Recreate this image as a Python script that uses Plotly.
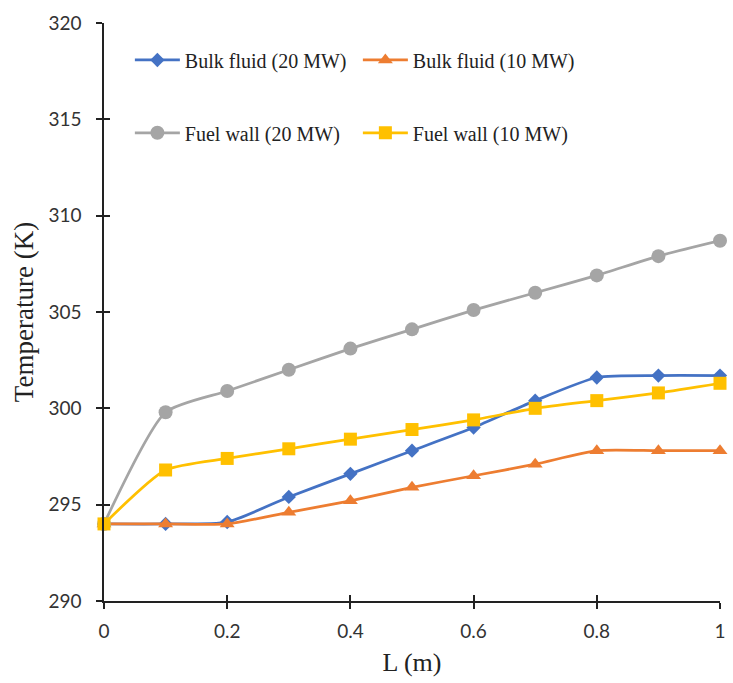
import plotly.graph_objects as go

# Axial position along the channel (m)
length_m = [0.0, 0.1, 0.2, 0.3, 0.4, 0.5, 0.6, 0.7, 0.8, 0.9, 1.0]

# Temperatures (K)
bulk_20mw = [294.0, 294.0, 294.1, 295.4, 296.6, 297.8, 299.0, 300.4, 301.6, 301.7, 301.7]
bulk_10mw = [294.0, 294.0, 294.0, 294.6, 295.2, 295.9, 296.5, 297.1, 297.8, 297.8, 297.8]
wall_20mw = [294.0, 299.8, 300.9, 302.0, 303.1, 304.1, 305.1, 306.0, 306.9, 307.9, 308.7]
wall_10mw = [294.0, 296.8, 297.4, 297.9, 298.4, 298.9, 299.4, 300.0, 300.4, 300.8, 301.3]

x_ticks = [0, 0.2, 0.4, 0.6, 0.8, 1]
x_tick_text = ["0", "0.2", "0.4", "0.6", "0.8", "1"]
y_ticks = [290, 295, 300, 305, 310, 315, 320]

SERIF = "Liberation Serif, Times New Roman, serif"
SANS = "Lato, Calibri, sans-serif"

series = [
    ("Bulk fluid (20 MW)", bulk_20mw, "#4472C4", "diamond", 11, "legend"),
    ("Bulk fluid (10 MW)", bulk_10mw, "#ED7D31", "triangle-up", 13, "legend"),
    ("Fuel wall (20 MW)", wall_20mw, "#A5A5A5", "circle", 14, "legend2"),
    ("Fuel wall (10 MW)", wall_10mw, "#FFC000", "square", 13, "legend2"),
]

fig = go.Figure()
for name, vals, color, symbol, size, leg in series:
    fig.add_trace(go.Scatter(
        x=length_m, y=vals, name=name, mode="lines+markers",
        line=dict(color=color, width=2.75, shape="spline", smoothing=0.6),
        marker=dict(symbol=symbol, size=size, color=color),
        cliponaxis=False, legend=leg,
    ))

axis_common = dict(showgrid=False, zeroline=False, linecolor="#222", linewidth=1.5,
                   tickcolor="#222", tickwidth=1.5, ticklen=6,
                   tickfont=dict(family=SANS, size=19, color="#333"))

legend_common = dict(orientation="h", xanchor="left", yanchor="middle",
                     entrywidth=168, itemwidth=45, bgcolor="rgba(255,255,255,0)",
                     font=dict(family=SERIF, size=20, color="#222"))

fig.update_layout(
    width=733, height=683,
    margin=dict(l=104, r=7, t=23, b=82),
    plot_bgcolor="white", paper_bgcolor="white",
    font=dict(family=SERIF, size=20, color="#222"),
    xaxis=dict(range=[0, 1], tickvals=x_ticks, ticktext=x_tick_text, ticks="outside",
               showline=True, ticklabelstandoff=6,
               title=dict(text="L (m)", font=dict(family=SERIF, size=26), standoff=12),
               **axis_common),
    yaxis=dict(range=[290, 320], tickvals=y_ticks, ticks="outside", showline=True,
               ticklabelstandoff=11,
               title=dict(text="Temperature (K)", font=dict(family=SERIF, size=27), standoff=7),
               **axis_common),
    # second set of axes draws the inner half of the crossing tick marks
    xaxis2=dict(range=[0, 1], tickvals=x_ticks, ticks="inside", overlaying="x",
                showticklabels=False, showline=False, showgrid=False, zeroline=False,
                tickcolor="#222", tickwidth=1.5, ticklen=6),
    yaxis2=dict(range=[290, 320], tickvals=y_ticks, ticks="inside", overlaying="y",
                showticklabels=False, showline=False, showgrid=False, zeroline=False,
                tickcolor="#222", tickwidth=1.5, ticklen=6),
    legend=dict(x=0.042, y=0.936, **legend_common),
    legend2=dict(x=0.042, y=0.81, **legend_common),
)

# invisible trace to activate the overlay axes
fig.add_trace(go.Scatter(x=[0], y=[290], xaxis="x2", yaxis="y2", mode="markers",
                         marker=dict(opacity=0), showlegend=False, hoverinfo="skip"))

fig.write_html("out.html")
